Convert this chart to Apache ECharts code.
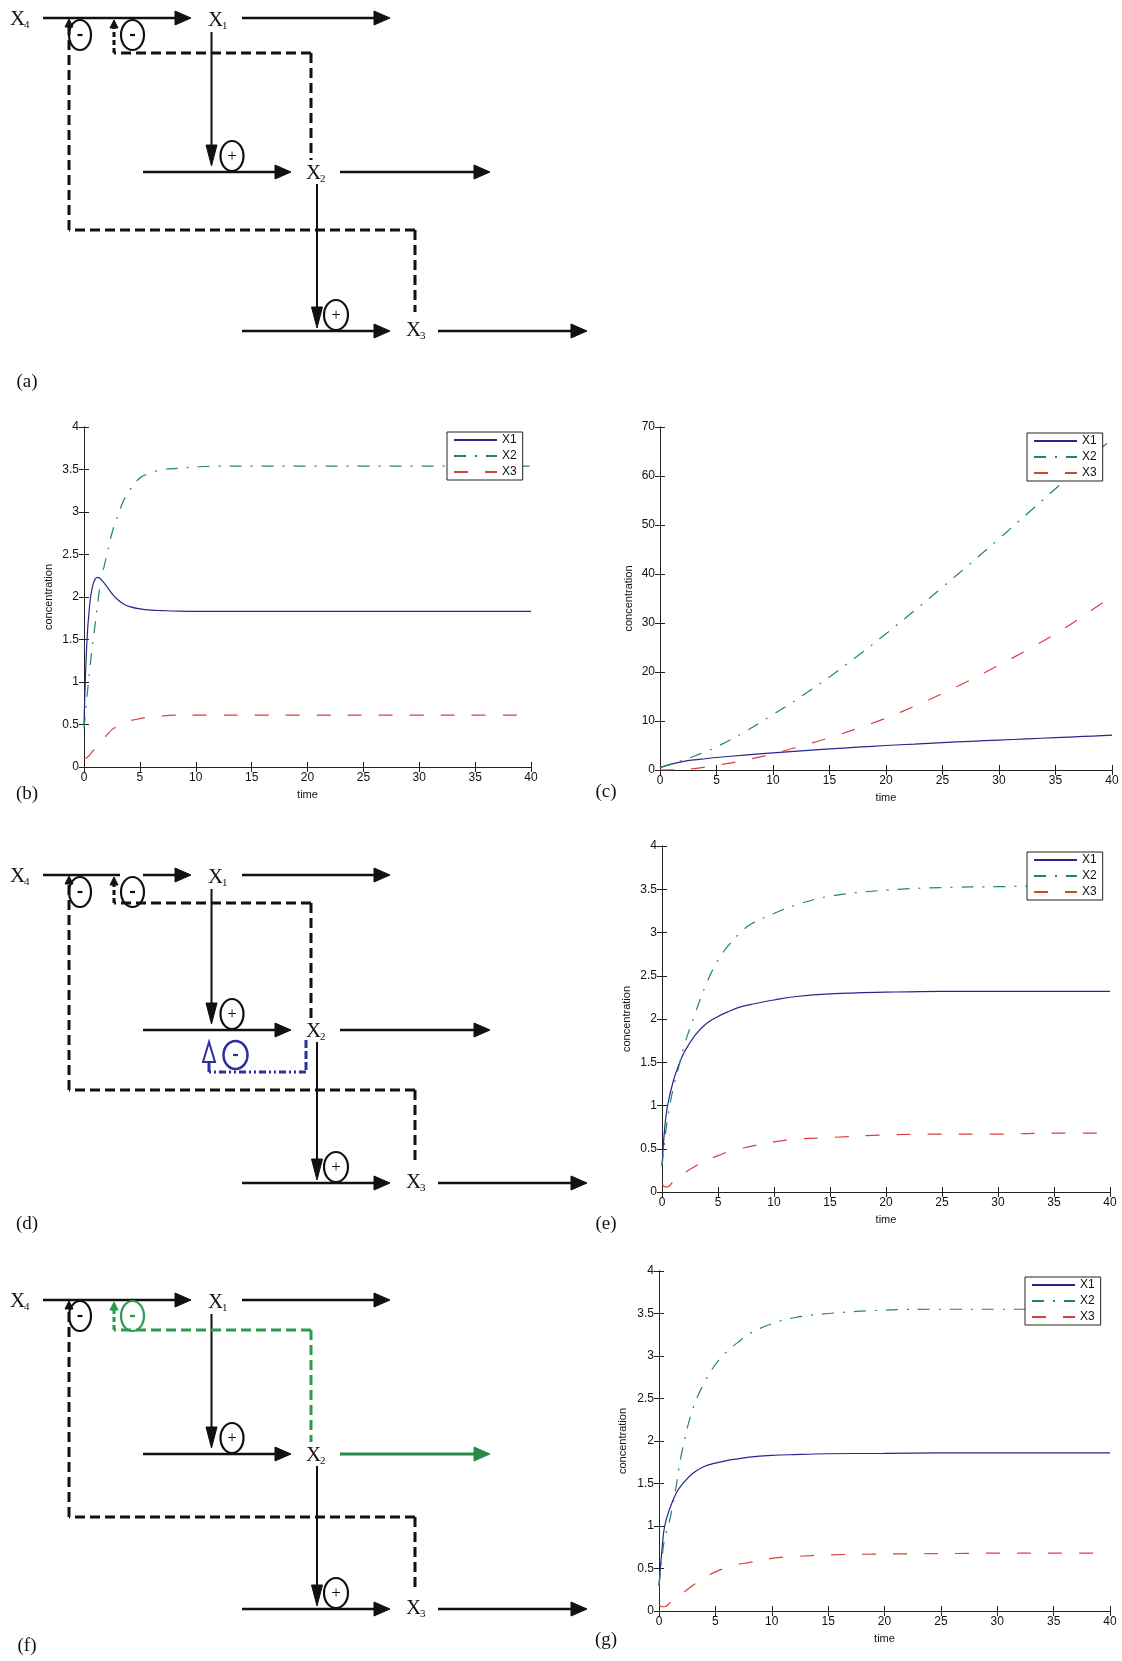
<!DOCTYPE html>
<html><head><meta charset="utf-8">
<script src="https://cdn.jsdelivr.net/npm/echarts@6/dist/echarts.min.js"></script>
<style>html,body{margin:0;padding:0;background:#fff}#c{width:1122px;height:1661px}</style>
</head><body><div id="c"></div>
<script>
// ---------------- DATA ----------------
const seriesNames = ['X1', 'X2', 'X3'];
const xTickValues = [0, 5, 10, 15, 20, 25, 30, 35, 40];

// panel (b)
const timeB = [0,0.25,0.5,0.75,1,1.25,1.5,2,2.5,3,3.5,4,5,6,7,8,10,12,15,20,25,30,35,40];
const bX1 = [0.5,1.45,1.9,2.12,2.21,2.23,2.21,2.13,2.04,1.97,1.92,1.89,1.86,1.845,1.84,1.835,1.83,1.83,1.83,1.83,1.83,1.83,1.83,1.83];
const bX2 = [0.45,0.8,1.13,1.42,1.68,1.95,2.18,2.47,2.75,2.95,3.12,3.24,3.4,3.46,3.5,3.51,3.53,3.54,3.54,3.54,3.54,3.54,3.54,3.54];
const bX3 = [0.1,0.11,0.14,0.18,0.22,0.26,0.3,0.37,0.44,0.48,0.52,0.54,0.57,0.59,0.6,0.61,0.61,0.61,0.61,0.61,0.61,0.61,0.61,0.61];

// panel (c)
const timeC = [0,1,2,3,4,5,7.5,10,12.5,15,17.5,20,22.5,25,27.5,30,32.5,35,37.5,40];
const cX1 = [0.5,1.2,1.7,2.05,2.3,2.55,3.05,3.5,3.9,4.3,4.65,5.0,5.3,5.6,5.85,6.1,6.35,6.6,6.85,7.1];
const cX2 = [0.5,1.2,2.0,2.8,3.7,4.7,7.8,11.3,15.0,19.0,23.3,27.8,32.5,37.3,42.2,47.2,52.3,57.4,62.5,67.6];
const cX3 = [0,0.02,0.1,0.3,0.6,0.95,2.0,3.3,4.9,6.6,8.5,10.6,13.0,15.6,18.4,21.4,24.5,27.8,31.5,35.5];

// panels (e) and (g)
const timeEG = [0,0.25,0.5,1,1.5,2,3,4,5,6,7,8,10,12,15,20,25,30,35,40];
const eX1 = [0.3,0.75,1.0,1.28,1.47,1.62,1.82,1.95,2.03,2.09,2.14,2.17,2.22,2.26,2.29,2.31,2.32,2.32,2.32,2.32];
const eX2 = [0.3,0.6,0.85,1.2,1.45,1.7,2.08,2.42,2.68,2.86,3.0,3.1,3.22,3.32,3.42,3.49,3.52,3.53,3.54,3.54];
const eX3 = [0.1,0.06,0.06,0.12,0.17,0.22,0.3,0.37,0.42,0.47,0.5,0.53,0.58,0.61,0.63,0.66,0.67,0.67,0.68,0.68];
const gX1 = [0.3,0.7,1.0,1.22,1.38,1.48,1.62,1.7,1.74,1.77,1.79,1.81,1.83,1.84,1.85,1.855,1.86,1.86,1.86,1.86];
const gX2 = [0.3,0.6,0.85,1.1,1.45,1.85,2.38,2.68,2.9,3.05,3.16,3.26,3.38,3.45,3.5,3.54,3.55,3.55,3.55,3.55];
const gX3 = [0.08,0.05,0.05,0.1,0.15,0.2,0.3,0.39,0.46,0.51,0.55,0.57,0.62,0.64,0.66,0.67,0.675,0.68,0.68,0.68];

const panelLabels = ['(a)', '(b)', '(c)', '(d)', '(e)', '(f)', '(g)'];

// ---------------- STYLE / LAYOUT ----------------
const INK = '#111';
const SANS = '"Liberation Sans", Arial, sans-serif';
const SERIF = '"Liberation Serif", "Times New Roman", serif';
const lineStyles = {
  X1: { color: '#27278f', type: 'solid' },
  X2: { color: '#22875f', type: [12, 9, 2, 9] },
  X3: { color: '#d8403c', type: [14, 17] }
};

const panels = [
  { grid: { left: 84, top: 427, width: 447, height: 340 }, yMax: 4, yInt: 0.5, yGap: 30, legend: { left: 447, top: 432 },
    t: timeB, vals: [bX1, bX2, bX3] },
  { grid: { left: 660, top: 427, width: 452, height: 343 }, yMax: 70, yInt: 10, yGap: 26, legend: { left: 1027, top: 433 },
    t: timeC, vals: [cX1, cX2, cX3] },
  { grid: { left: 662, top: 846, width: 448, height: 346 }, yMax: 4, yInt: 0.5, yGap: 30, legend: { left: 1027, top: 852 },
    t: timeEG, vals: [eX1, eX2, eX3] },
  { grid: { left: 659, top: 1271, width: 451, height: 340 }, yMax: 4, yInt: 0.5, yGap: 31, legend: { left: 1025, top: 1277 },
    t: timeEG, vals: [gX1, gX2, gX3] }
];

function zip(t, v) { return t.map((x, i) => [x, v[i]]); }

const grids = [], xAxes = [], yAxes = [], series = [], legends = [];
const axLine = { show: true, lineStyle: { color: '#222', width: 1 } };
const axTick = { show: true, inside: true, length: 5, lineStyle: { color: '#222', width: 1 } };
panels.forEach((p, gi) => {
  grids.push(Object.assign({ containLabel: false }, p.grid));
  xAxes.push({ type: 'value', gridIndex: gi, min: 0, max: 40, interval: 5, position: 'bottom',
    axisLine: axLine, axisTick: axTick, splitLine: { show: false },
    axisLabel: { fontSize: 12, color: INK, fontFamily: SANS, margin: 5 },
    name: 'time', nameLocation: 'middle', nameGap: 22,
    nameTextStyle: { fontSize: 11, color: INK, fontFamily: SANS } });
  xAxes.push({ type: 'value', gridIndex: gi, min: 0, max: 40, interval: 5, position: 'top',
    axisLine: axLine, axisTick: axTick, splitLine: { show: false }, axisLabel: { show: false } });
  yAxes.push({ type: 'value', gridIndex: gi, min: 0, max: p.yMax, interval: p.yInt, position: 'left',
    axisLine: axLine, axisTick: axTick, splitLine: { show: false },
    axisLabel: { fontSize: 12, color: INK, fontFamily: SANS, margin: 5 },
    name: 'concentration', nameLocation: 'middle', nameGap: p.yGap, nameRotate: 90,
    nameTextStyle: { fontSize: 11, color: INK, fontFamily: SANS } });
  yAxes.push({ type: 'value', gridIndex: gi, min: 0, max: p.yMax, interval: p.yInt, position: 'right',
    axisLine: axLine, axisTick: axTick, splitLine: { show: false }, axisLabel: { show: false } });
  seriesNames.forEach((n, si) => {
    series.push({ type: 'line', name: n, xAxisIndex: gi * 2, yAxisIndex: gi * 2,
      data: zip(p.t, p.vals[si]), symbol: 'none', showSymbol: false, smooth: 0.4,
      color: lineStyles[n].color, clip: true,
      lineStyle: { color: lineStyles[n].color, type: lineStyles[n].type, width: 1.2 } });
  });
  legends.push({ left: p.legend.left, top: p.legend.top, orient: 'vertical', data: seriesNames,
    itemWidth: 43, itemHeight: 12, itemGap: 4, padding: [2, 6, 2, 6],
    itemStyle: { opacity: 0 },
    borderColor: '#222', borderWidth: 1, backgroundColor: '#fff', selectedMode: false,
    textStyle: { fontSize: 12, color: INK, fontFamily: SANS } });
});

// ---------------- DIAGRAM HELPERS ----------------
function L(x1, y1, x2, y2, c, w, dash) {
  return { type: 'line', silent: true, z: 10, shape: { x1, y1, x2, y2 },
    style: { stroke: c, lineWidth: w, lineDash: dash || null, lineCap: 'butt' } };
}
function P(pts, c, fill, w) {
  return { type: 'polygon', silent: true, z: 11, shape: { points: pts },
    style: { fill: fill || c, stroke: c, lineWidth: w || 1, lineJoin: 'miter' } };
}
function E(cx, cy, rx, ry, c, w) {
  return { type: 'ellipse', silent: true, z: 11, shape: { cx, cy, rx, ry },
    style: { fill: 'rgba(255,255,255,0)', stroke: c, lineWidth: w } };
}
function T(x, y, text, font, c, align, valign) {
  return { type: 'text', silent: true, z: 12, x, y,
    style: { text, font, fill: c, align: align || 'left', verticalAlign: valign || 'middle' } };
}
function arrowR(x1, x2, y, c, w) {
  const len = 16, hw = 7;
  return [L(x1, y, x2 - len + 1, y, c, w), P([[x2, y], [x2 - len, y - hw], [x2 - len, y + hw]], c)];
}
function arrowD(x, y1, y2, c, w) {
  const len = 21, hw = 5.5;
  return [L(x, y1, x, y2 - len + 1, c, w), P([[x, y2], [x - hw, y2 - len], [x + hw, y2 - len]], c)];
}
function upHead(x, yTip, c) { return P([[x, yTip], [x - 4, yTip + 8], [x + 4, yTip + 8]], c); }
function node(x, y, sub) {
  return [T(x, y, 'X', '21px ' + SERIF, INK), T(x + 14, y + 6, sub, '11px ' + SERIF, INK)];
}
function sign(cx, cy, rx, ry, c, s, w) {
  return [E(cx, cy, rx, ry, c, w || 2.2),
    s === '+' ? T(cx, cy + 1, '+', '17px ' + SERIF, c, 'center')
              : L(cx - 2.5, cy, cx + 2.5, cy, c, 2.2)];
}

function diagram(d) {
  const els = [];
  const DASH = [10, 5];
  const ic = d.innerColor || INK;
  const top = d.top, mid = d.mid, bot = d.bot;
  // top row
  if (d.split) { els.push(L(43, top, 120, top, INK, 2.5)); els.push(...arrowR(143, 191, top, INK, 2.5)); }
  else els.push(...arrowR(43, 191, top, INK, 2.5));
  els.push(...node(10, top + 1, '4'), ...node(208, top + 2, '1'));
  els.push(...arrowR(242, 390, top, INK, 2.5));
  els.push(...arrowD(211.5, top + 14, mid - 6, INK, 2));
  els.push(...sign(232, mid - 16, 11.5, 15, INK, '+'));
  // middle row
  els.push(...arrowR(143, 291, mid, INK, 2.5));
  els.push(...node(306, mid + 1, '2'));
  els.push(...arrowR(340, 490, mid, d.outColor || INK, d.outColor ? 3 : 2.5));
  els.push(...arrowD(317, mid + 12, bot - 3, INK, 2));
  els.push(...sign(336, bot - 16, 12, 15, INK, '+'));
  // bottom row
  els.push(...arrowR(242, 390, bot, INK, 2.5));
  els.push(...node(406, bot - 1, '3'));
  els.push(...arrowR(438, 587, bot, INK, 2.5));
  // inner feedback X2 -| (X4 -> X1)
  els.push(L(311, d.inner, 311, mid - 12, ic, 3, DASH));
  els.push(L(311, d.inner, 114, d.inner, ic, 3, DASH));
  els.push(L(114, d.inner, 114, top + 9, ic, 3, [5, 3]));
  els.push(upHead(114, top + 2, ic));
  els.push(...sign(132.5, top + d.sy, 11.5, 15, ic, '-'));
  // outer feedback X3 -| (X4 -> X1)
  els.push(L(415, d.outer, 415, bot - 19, INK, 3, DASH));
  els.push(L(415, d.outer, 69, d.outer, INK, 3, DASH));
  els.push(L(69, d.outer, 69, top + 8, INK, 3, DASH));
  els.push(upHead(69, top + 1, INK));
  els.push(...sign(80, top + d.sy, 11, 15, INK, '-'));
  // extra inhibition loop (d)
  if (d.blue) {
    const B = '#2e2ea0', BD = [7, 3, 2, 3, 2, 3];
    els.push(L(306, mid + 10, 306, mid + 42, B, 3, [8, 3]));
    els.push(L(306, mid + 42, 209, mid + 42, B, 3, BD));
    els.push(L(209, mid + 42, 209, mid + 32, B, 3));
    els.push(P([[209, mid + 12], [203, mid + 32], [215, mid + 32]], B, '#fff', 2));
    els.push(...sign(235.5, mid + 25, 12, 14, B, '-', 2.5));
  }
  els.push(T(27, d.label[1], d.label[0], '19px ' + SERIF, INK, 'center'));
  return els;
}

const graphics = [];
graphics.push(...diagram({ top: 18, mid: 172, bot: 331, inner: 53, outer: 230, sy: 17, label: [panelLabels[0], 382] }));
graphics.push(...diagram({ top: 875, mid: 1030, bot: 1183, inner: 903, outer: 1090, sy: 17, split: true, blue: true, label: [panelLabels[3], 1224] }));
graphics.push(...diagram({ top: 1300, mid: 1454, bot: 1609, inner: 1330, outer: 1517, sy: 16, innerColor: '#2a9a4c', outColor: '#2a8a4a', label: [panelLabels[5], 1646] }));
// chart panel labels
graphics.push(T(27, 794, panelLabels[1], '19px ' + SERIF, INK, 'center'));
graphics.push(T(606, 792, panelLabels[2], '19px ' + SERIF, INK, 'center'));
graphics.push(T(606, 1224, panelLabels[4], '19px ' + SERIF, INK, 'center'));
graphics.push(T(606, 1640, panelLabels[6], '19px ' + SERIF, INK, 'center'));

const chart = echarts.init(document.getElementById('c'), null, { renderer: 'canvas' });
chart.setOption({
  backgroundColor: '#fff',
  animation: false,
  grid: grids, xAxis: xAxes, yAxis: yAxes, series: series, legend: legends,
  graphic: { elements: graphics }
});
</script></body></html>
